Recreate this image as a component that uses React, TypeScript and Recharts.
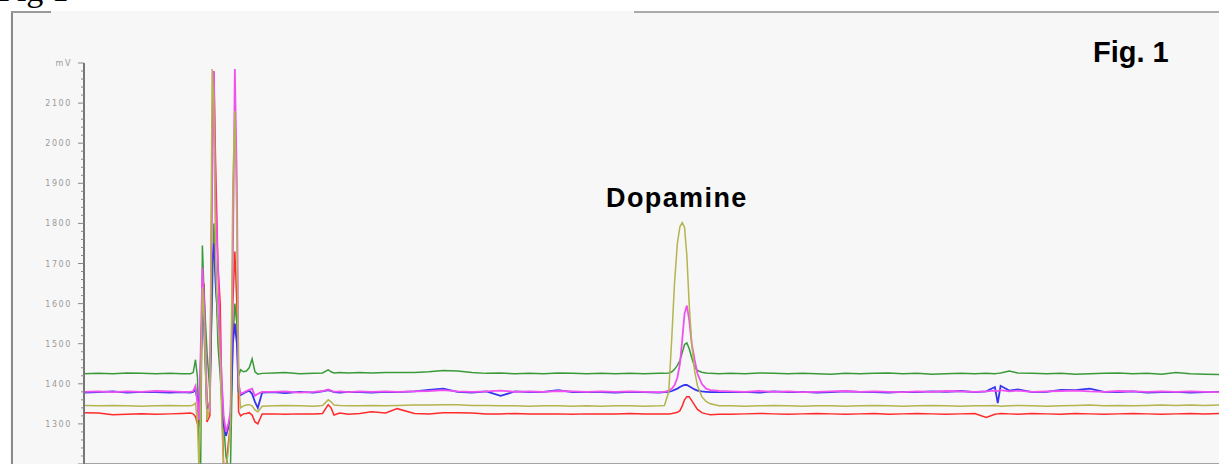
import React from "react";
import { LineChart, Line, XAxis, YAxis } from "recharts";

// Retention time (min) of each sampled point
const timeMin = [
  // baseline before injection
  0, 0.5, 1, 1.5, 2, 2.5, 3, 3.4,
  // solvent front / early peaks
  3.7, 3.8, 3.88, 3.95, 4.0, 4.06, 4.12, 4.18, 4.28, 4.38, 4.46, 4.52, 4.58, 4.66, 4.74, 4.8,
  4.86, 4.94, 5.02, 5.1, 5.18, 5.25, 5.32, 5.38, 5.45, 5.55, 5.65, 5.75, 5.85, 5.95, 6.05, 6.2,
  // middle baseline
  6.6, 7.0, 7.5, 8.0, 8.3, 8.5, 8.6, 8.7, 8.9, 9.2, 9.6, 10.0, 10.5, 10.9, 11.5, 12.0,
  12.5, 13.0, 13.5, 14.0, 14.5, 15.0, 15.5, 16.0, 16.5, 17.0, 17.5, 18.0, 18.5, 19.0, 19.5, 20.0,
  // dopamine peak
  20.2, 20.35, 20.46, 20.55, 20.65, 20.74, 20.82, 20.9, 20.98, 21.06, 21.15, 21.25, 21.35, 21.5, 21.65, 21.8, 22.1,
  // late baseline
  22.5, 23, 23.5, 24, 24.5, 25, 25.5, 26, 26.5, 27, 27.5, 28, 28.5, 29, 29.5, 30, 30.5, 31,
  31.4, 31.7, 31.8, 31.9, 32.2, 32.5, 33, 33.5, 34, 34.5, 35, 35.5, 36, 36.5, 37, 37.5, 38, 38.5, 39, 39.5,
];

const greenTrace = [
  1425, 1426, 1425, 1427, 1426, 1425, 1426, 1425,
  1425, 1428, 1460, 1415, 1260, 1190, 1745, 1620, 1480, 1380, 1600, 1800, 1700, 1500, 1420, 1350,
  1300, 1220, 1190, 1200, 1500, 1600, 1550, 1420, 1435, 1430, 1432, 1440, 1462, 1430, 1424, 1426,
  1427, 1428, 1425, 1426, 1427, 1435, 1430, 1427, 1428, 1427, 1428, 1427, 1428, 1428, 1428, 1430,
  1433, 1432, 1428, 1426, 1427, 1425, 1426, 1425, 1427, 1426, 1425, 1426, 1425, 1426, 1425, 1426,
  1426, 1427, 1430, 1436, 1446, 1458, 1478, 1498, 1502, 1488, 1465, 1442, 1433, 1429, 1427, 1426, 1425,
  1426, 1425, 1427, 1426, 1425, 1426, 1425, 1424, 1426, 1425, 1426, 1427, 1425, 1426, 1424, 1425, 1426, 1425,
  1426, 1425, 1426, 1427, 1432, 1427, 1426, 1425, 1426, 1424, 1425, 1426, 1427, 1425, 1426, 1424, 1428, 1425, 1424, 1423,
];

const magentaTrace = [
  1380, 1381, 1379, 1381, 1380, 1382, 1381, 1380,
  1380, 1382, 1395, 1350, 1310, 1480, 1690, 1600, 1360, 1330, 1900, 2180, 1850, 1690, 1500, 1400,
  1320, 1280, 1300, 1330, 1700, 2185, 1900, 1400, 1375, 1378, 1382, 1385, 1388, 1370, 1375, 1380,
  1380, 1381, 1378, 1380, 1382, 1386, 1383, 1380, 1381, 1379, 1381, 1380, 1381, 1380, 1381, 1382,
  1384, 1381, 1380, 1381, 1383, 1380, 1381, 1380, 1382, 1381, 1380, 1381, 1380, 1381, 1380, 1379,
  1380, 1383, 1388, 1396, 1415, 1450, 1510, 1575, 1595, 1560, 1500, 1460, 1425, 1400, 1388, 1384, 1382,
  1381, 1380, 1382, 1380, 1381, 1379, 1380, 1381, 1382, 1380, 1381, 1380, 1379, 1381, 1380, 1382, 1381, 1380,
  1381, 1383, 1382, 1384, 1381, 1383, 1380, 1381, 1382, 1383, 1381, 1380, 1382, 1381, 1380, 1381, 1380, 1381, 1380, 1379,
];

const blueTrace = [
  1378, 1379, 1381, 1378, 1380, 1379, 1378, 1379,
  1378, 1380, 1385, 1360, 1340, 1440, 1600, 1540, 1340, 1350, 1700, 1750, 1650, 1560, 1450, 1380,
  1300, 1270, 1290, 1320, 1500, 1550, 1500, 1380, 1372, 1376, 1380, 1383, 1375, 1355, 1340, 1378,
  1379, 1377, 1380, 1378, 1381, 1384, 1382, 1379, 1378, 1380, 1379, 1378, 1380, 1379, 1381, 1385,
  1388, 1380, 1378, 1381, 1370, 1381, 1379, 1380, 1384, 1379, 1380, 1379, 1378, 1380, 1379, 1378,
  1379, 1380, 1382, 1385, 1388, 1392, 1395, 1397, 1397, 1394, 1390, 1386, 1383, 1381, 1380, 1379, 1380,
  1379, 1380, 1378, 1381, 1379, 1380, 1378, 1379, 1381, 1380, 1379, 1378, 1380, 1379, 1381, 1380, 1382, 1379,
  1381, 1392, 1352, 1395, 1383, 1386, 1379, 1380, 1385, 1384, 1388, 1380, 1379, 1381, 1378, 1379, 1380, 1378, 1379, 1380,
];

const oliveTrace = [
  1346, 1345, 1346, 1345, 1344, 1345, 1346, 1345,
  1345, 1347, 1352, 1300, 1190, 1330, 1640, 1560, 1310, 1340, 2185, 2100, 1700, 1550, 1450, 1300,
  1190, 1190, 1230, 1300, 1900, 2080, 1800, 1400, 1340, 1345, 1347, 1348, 1345, 1335, 1330, 1344,
  1345, 1346, 1345, 1344, 1346, 1360, 1355, 1347, 1346, 1345, 1345, 1346, 1345, 1346, 1347, 1347,
  1348, 1348, 1346, 1346, 1345, 1345, 1344, 1345, 1345, 1344, 1345, 1344, 1345, 1345, 1344, 1345,
  1346, 1380, 1520, 1650, 1750, 1792, 1802, 1790, 1720, 1600, 1500, 1432, 1395, 1368, 1356, 1350, 1345,
  1345, 1344, 1345, 1346, 1345, 1344, 1345, 1345, 1344, 1345, 1346, 1345, 1344, 1345, 1346, 1345, 1344, 1345,
  1345, 1346, 1345, 1344, 1345, 1346, 1345, 1344, 1345, 1346, 1347, 1345, 1346, 1345, 1346, 1347, 1346, 1347, 1346, 1347,
];

const redTrace = [
  1328, 1327, 1323, 1324, 1325, 1324, 1325, 1326,
  1327, 1325, 1318, 1300, 1292, 1380, 1590, 1650, 1305, 1320, 1980, 2180, 1950, 1700, 1600, 1350,
  1190, 1190, 1250, 1300, 1600, 1730, 1600, 1330, 1320, 1325, 1326, 1328, 1322, 1305, 1300, 1325,
  1325, 1324, 1325, 1325, 1326, 1348, 1340, 1322, 1327, 1324, 1326, 1330, 1327, 1338, 1326, 1325,
  1328, 1328, 1327, 1325, 1325, 1326, 1325, 1325, 1325, 1324, 1325, 1325, 1325, 1326, 1325, 1325,
  1325, 1325, 1326, 1327, 1329, 1333, 1345, 1360, 1368, 1368, 1358, 1347, 1336, 1328, 1325, 1323, 1324,
  1324, 1325, 1326, 1325, 1324, 1325, 1326, 1325, 1324, 1325, 1326, 1324, 1325, 1326, 1325, 1324, 1325, 1326,
  1316, 1324, 1325, 1326, 1325, 1324, 1326, 1325, 1324, 1326, 1325, 1324, 1325, 1326, 1325, 1324, 1325, 1326, 1325, 1326,
];

const yTicks = [
  1200, 1220, 1240, 1260, 1280, 1300, 1320, 1340, 1360, 1380, 1400, 1420, 1440, 1460, 1480,
  1500, 1520, 1540, 1560, 1580, 1600, 1620, 1640, 1660, 1680, 1700, 1720, 1740, 1760, 1780,
  1800, 1820, 1840, 1860, 1880, 1900, 1920, 1940, 1960, 1980, 2000, 2020, 2040, 2060, 2080,
  2100, 2120, 2140, 2160, 2180, 2200,
];
const yLabelValues = [1300, 1400, 1500, 1600, 1700, 1800, 1900, 2000, 2100, 2200];
const yLabelTexts = ["1300", "1400", "1500", "1600", "1700", "1800", "1900", "2000", "2100", "mV"];

const xTicks = [
  0, 1, 2, 3, 4, 5, 6, 7, 8, 9, 10, 11, 12, 13, 14, 15, 16, 17, 18, 19,
  20, 21, 22, 23, 24, 25, 26, 27, 28, 29, 30, 31, 32, 33, 34, 35, 36, 37, 38, 39,
];

const rows = timeMin.map((t, i) => ({
  t,
  green: greenTrace[i],
  magenta: magentaTrace[i],
  blue: blueTrace[i],
  olive: oliveTrace[i],
  red: redTrace[i],
}));

const YTick = (props: any) => {
  const { x, y, payload } = props;
  const v = payload.value as number;
  const major = v % 100 === 0;
  const idx = yLabelValues.indexOf(v);
  return (
    <g>
      <line x1={x - (major ? 6 : 3)} x2={x} y1={y} y2={y} stroke="#888" strokeWidth={1} />
      {idx >= 0 && (
        <text
          x={x - 12}
          y={y}
          dy={3}
          textAnchor="end"
          fontSize={8}
          fill="#9a9a9a"
          letterSpacing={1.6}
          fontFamily="DejaVu Sans"
        >
          {yLabelTexts[idx]}
        </text>
      )}
    </g>
  );
};

export default function App() {
  return (
    <div style={{ position: "absolute", left: 0, top: 0, width: 1219, height: 464, background: "#ffffff", overflow: "hidden" }}>
      {/* panel */}
      <div style={{ position: "absolute", left: 10, top: 11, width: 1209, height: 453, background: "#f7f7f7" }} />
      <div style={{ position: "absolute", left: 11, top: 11, width: 2, height: 453, background: "#8a8a8a" }} />
      <div style={{ position: "absolute", left: 11, top: 11, width: 40, height: 2, background: "#9a9a9a" }} />
      <div style={{ position: "absolute", left: 634, top: 11, width: 585, height: 2, background: "#aaaaaa" }} />
      {/* caption cut off at the very top, as in the source image */}
      <svg style={{ position: "absolute", left: 0, top: 0 }} width={90} height={10}>
        <text x={-2} y={1} fontSize={34} fontFamily="Liberation Serif" fill="#000">Fig 1</text>
      </svg>
      <div style={{ position: "absolute", left: 0, top: 0 }}>
        <LineChart width={1219} height={464} data={rows} margin={{ top: 63, right: 0, bottom: 0, left: 24 }}>
          <XAxis
            dataKey="t"
            type="number"
            domain={[0, 39.5]}
            ticks={xTicks}
            height={1}
            tick={false}
            mirror
            tickSize={3}
            axisLine={{ stroke: "#8a8a8a", strokeWidth: 1.5 }}
            tickLine={{ stroke: "#8a8a8a" }}
          />
          <YAxis
            type="number"
            domain={[1200, 2200]}
            allowDataOverflow
            ticks={yTicks}
            interval={0}
            width={60}
            tickSize={0}
            tickMargin={0}
            tickLine={false}
            tick={<YTick />}
            axisLine={{ stroke: "#777", strokeWidth: 2 }}
          />
          <Line type="linear" dataKey="red" stroke="#ff2a2a" strokeWidth={1.5} dot={false} isAnimationActive={false} />
          <Line type="linear" dataKey="green" stroke="#3a9a3a" strokeWidth={1.5} dot={false} isAnimationActive={false} />
          <Line type="linear" dataKey="blue" stroke="#3535f0" strokeWidth={1.8} dot={false} isAnimationActive={false} />
          <Line type="linear" dataKey="magenta" stroke="#f050f0" strokeWidth={1.8} dot={false} isAnimationActive={false} />
          <Line type="linear" dataKey="olive" stroke="#b4b450" strokeWidth={1.5} dot={false} isAnimationActive={false} />
        </LineChart>
      </div>
      <div style={{ position: "absolute", left: 1093, top: 35, fontFamily: "Liberation Sans", fontWeight: 700, fontSize: 29, lineHeight: "34px", color: "#000" }}>
        Fig. 1
      </div>
      <div style={{ position: "absolute", left: 606, top: 182, fontFamily: "Liberation Sans", fontWeight: 700, fontSize: 27, letterSpacing: 1.4, lineHeight: "32px", color: "#000" }}>
        Dopamine
      </div>
    </div>
  );
}
